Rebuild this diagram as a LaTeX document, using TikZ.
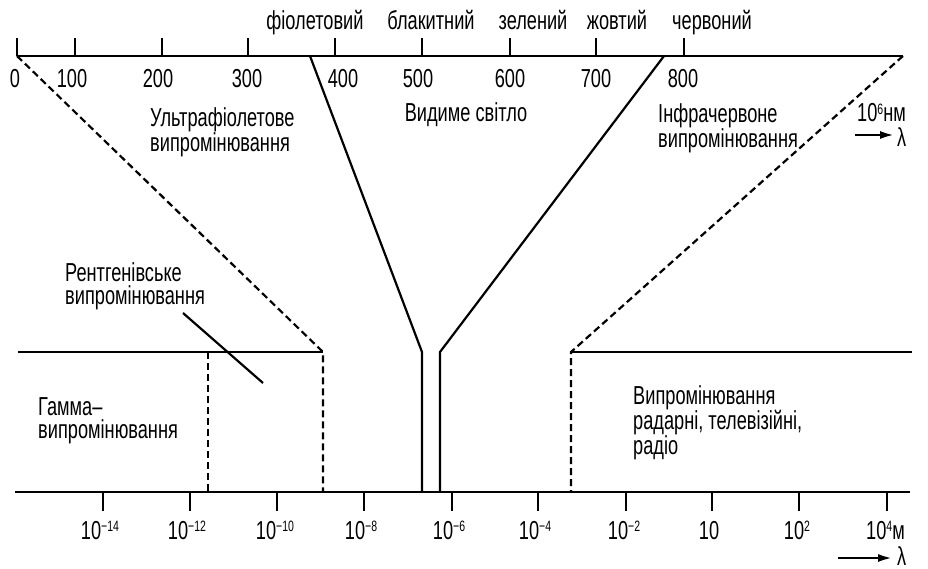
\documentclass[tikz,border=0pt]{standalone}
\usepackage{fontspec}
\setmainfont{Liberation Sans}[FakeStretch=0.70]
\usetikzlibrary{arrows.meta}
\newcommand\mysup[1]{\raisebox{7.5pt}{\fontsize{15}{15}\selectfont #1}}
\begin{document}
\begin{tikzpicture}[x=1pt,y=-1pt,
  axis/.style={line width=2.8pt},
  edge/.style={line width=2.2pt},
  dashedge/.style={line width=2.2pt, dash pattern=on 7pt off 4pt},
  lbl/.style={inner sep=0pt, font=\fontsize{26}{23}\selectfont},
  mlbl/.style={lbl, align=left, anchor=north west},
  arr/.style={line width=2.8pt, -{Latex[length=15pt,width=8pt]}}]
\useasboundingbox (0,0) rectangle (928,569);
% top axis
\coordinate (ta0) at (17,56); \coordinate (ta1) at (903,56);
\draw[axis] (ta0) -- (ta1);
\foreach \x/\c/\t [count=\i] in {17/15/0,75/72/100,162/158/200,248/247/300,335/343/400,422/418/500,510/510/600,596/596/700,684/683/800}{
  \coordinate (tt\i) at (\x,56);
  \draw[axis] (tt\i) -- ++(0,-18);
  \node[lbl, anchor=base] (tl\i) at (\c,88) {\t};
}
% colour names
\node[lbl, anchor=base] (c1) at (315,30) {фіолетовий};
\node[lbl, anchor=base] (c2) at (431,30) {блакитний};
\node[lbl, anchor=base] (c3) at (533,30) {зелений};
\node[lbl, anchor=base] (c4) at (617,30) {жовтий};
\node[lbl, anchor=base] (c5) at (712,30) {червоний};
% bottom axis
\coordinate (ba0) at (15,492); \coordinate (ba1) at (910,492);
\draw[axis] (ba0) -- (ba1);
\foreach \x/\c/\t [count=\i] in {103/100/{10\mysup{−14}},190/187/{10\mysup{−12}},277/275/{10\mysup{−10}},364/361/{10\mysup{−8}},452/449/{10\mysup{−6}},538/535/{10\mysup{−4}},626/624/{10\mysup{−2}},712/709/{10},799/797/{10\mysup{2}}}{
  \coordinate (bt\i) at (\x,492);
  \draw[axis] (bt\i) -- ++(0,19);
  \node[lbl, anchor=base] (bl\i) at (\c,539) {\t};
}
\coordinate (bt10) at (887,492);
\draw[axis] (bt10) -- ++(0,19);
\node[lbl, anchor=base west] (bl10) at (866,539) {10\mysup{4}м};
% key points
\coordinate (vl0) at (310,56); \coordinate (vl1) at (422,352); \coordinate (vl2) at (422,492);
\coordinate (vr0) at (664,56); \coordinate (vr1) at (440,352); \coordinate (vr2) at (440,492);
\coordinate (ul1) at (323,352); \coordinate (ul2) at (323,492);
\coordinate (ir1) at (571,352); \coordinate (ir2) at (571,492);
\coordinate (xg1) at (208,352); \coordinate (xg2) at (208,492);
\coordinate (hl0) at (18,352); \coordinate (hr1) at (912,352);
\coordinate (ld0) at (183,313); \coordinate (ld1) at (263,383);
% visible light lines
\draw[edge] (vl0) -- (vl1) -- (vl2);
\draw[edge] (vr0) -- (vr1) -- (vr2);
% dashed boundaries
\draw[dashedge] (ta0) -- (ul1) -- (ul2);
\draw[dashedge] (ta1) -- (ir1) -- (ir2);
\draw[dashedge] (xg1) -- (xg2);
% horizontal lines
\draw[edge] (hl0) -- (ul1);
\draw[edge] (ir1) -- (hr1);
% leader
\draw[edge] (ld0) -- (ld1);
% region labels
\node[mlbl] (uv) at (150,107) {Ультрафіолетове\\випромінювання};
\node[lbl, anchor=base] (vis) at (466,122) {Видиме світло};
\node[mlbl] (ir) at (658,103) {Інфрачервоне\\випромінювання};
\node[mlbl] (xr) at (65,262) {Рентгенівське\\випромінювання};
\node[mlbl] (gm) at (38,397) {Гамма–\\випромінювання};
\node[mlbl] (rd) at (633,385) {Випромінювання\\радарні, телевізійні,\\радіо};
% units and arrows
\node[lbl, anchor=base west] (nm) at (857,122) {10\mysup{6}нм};
\coordinate (ua0) at (855,135); \coordinate (ua1) at (895,135);
\draw[arr] (ua0) -- (ua1);
\node[lbl, anchor=west] (lam1) at (897,137) {λ};
\coordinate (la0) at (838,558); \coordinate (la1) at (893,558);
\draw[arr] (la0) -- (la1);
\node[lbl, anchor=west] (lam2) at (897,556) {λ};
\end{tikzpicture}
\end{document}
